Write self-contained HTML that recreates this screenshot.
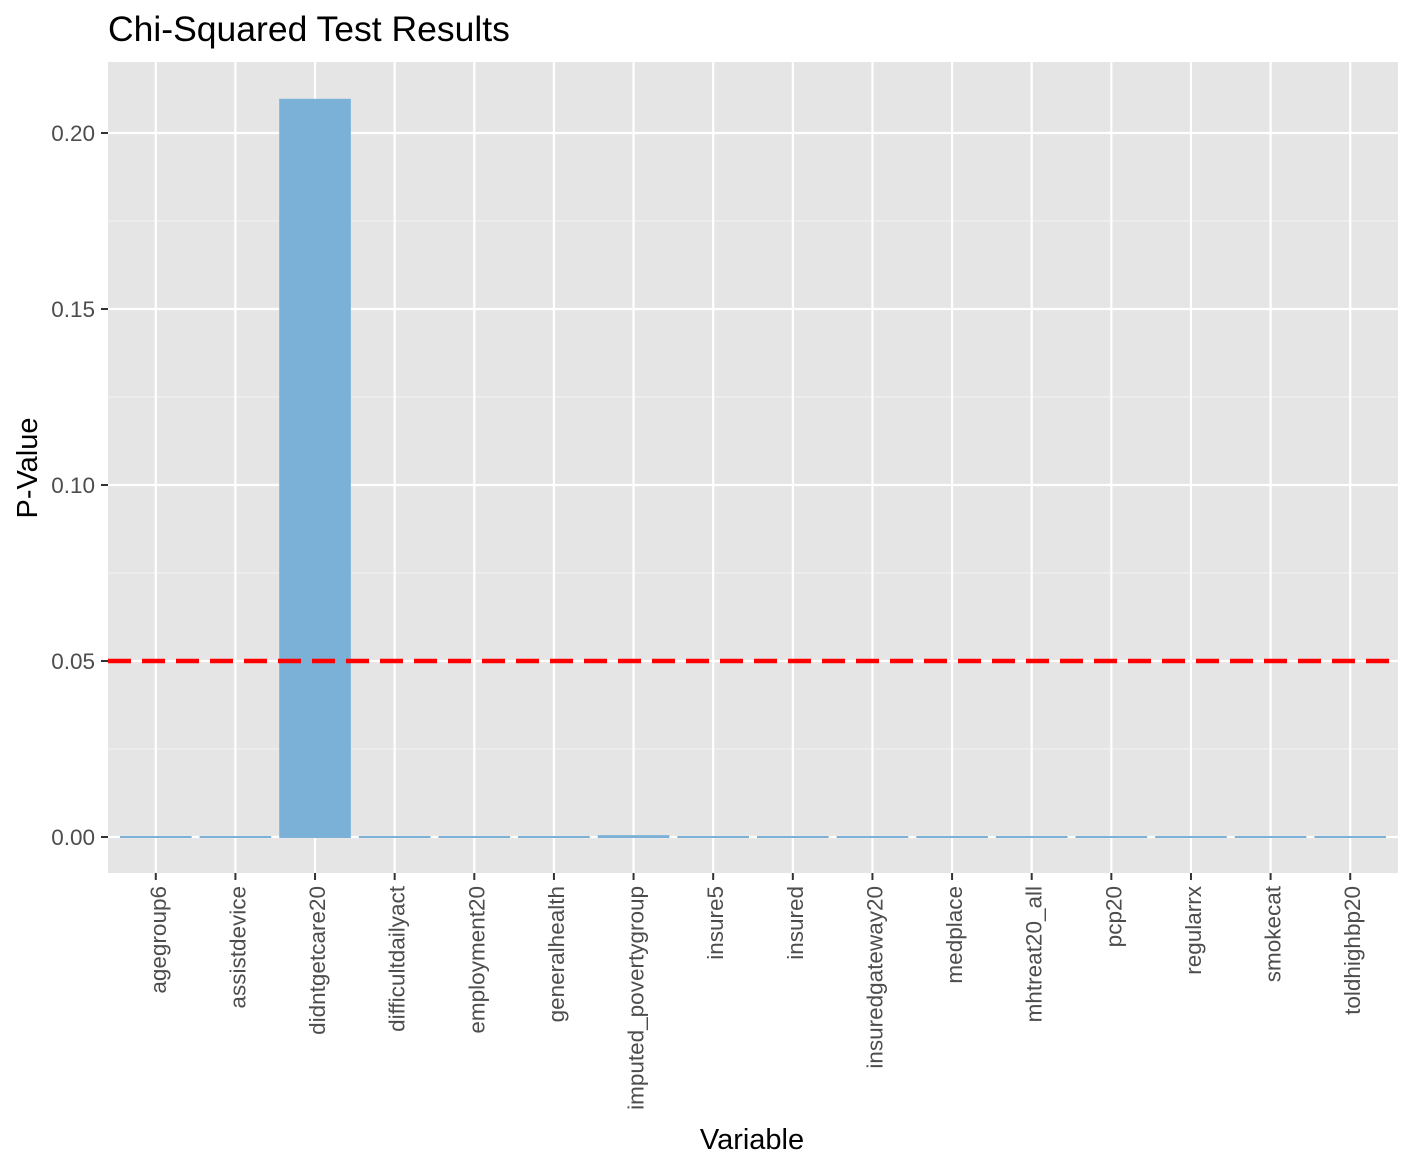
<!DOCTYPE html>
<html><head><meta charset="utf-8"><style>
body{margin:0;background:#fff}
svg{display:block;font-family:"Liberation Sans",Arial,sans-serif}
</style></head><body>
<svg id="chart" width="1412" height="1170">
<text x="108" y="41" font-size="35.5" fill="#000">Chi-Squared Test Results</text>
<rect x="108" y="62" width="1290" height="811" fill="#e5e5e5"/>
<g id="grid"></g><g id="bars"></g><g id="axes"></g>
<text x="752" y="1149" font-size="29" text-anchor="middle" fill="#000">Variable</text>
<text transform="translate(37,468) rotate(-90)" font-size="29" text-anchor="middle" fill="#000">P-Value</text>
</svg>
<script>
const categories=["agegroup6","assistdevice","didntgetcare20","difficultdailyact","employment20","generalhealth","imputed_povertygroup","insure5","insured","insuredgateway20","medplace","mhtreat20_all","pcp20","regularrx","smokecat","toldhighbp20"];
const pValues=[0,0,0.21,0,0,0,0.0008,0,0,0,0,0,0,0,0,0];
const yTicks=[0,0.05,0.10,0.15,0.20];
const yTickLabels=["0.00","0.05","0.10","0.15","0.20"];
const threshold=0.05;
const NS="http://www.w3.org/2000/svg";
const px0=108,px1=1398,py0=62,py1=873;
const step=(px1-px0)/(categories.length+0.2);
const xc=i=>px0+(i+0.6)*step;
const y=v=>837-v*3520;
function mk(tag,attrs,parent){const e=document.createElementNS(NS,tag);for(const k in attrs)e.setAttribute(k,attrs[k]);parent.appendChild(e);return e;}
const grid=document.getElementById('grid'),bars=document.getElementById('bars'),axes=document.getElementById('axes');
for(let i=0;i<yTicks.length-1;i++){const v=(yTicks[i]+yTicks[i+1])/2;
const l=mk('line',{x1:px0,x2:px1,y1:y(v),y2:y(v),stroke:'#f2f2f2','stroke-width':1},grid);

}
yTicks.forEach((v,i)=>{
const l=mk('line',{x1:px0,x2:px1,y1:y(v),y2:y(v),stroke:'#fff','stroke-width':2.2},grid);


const t=mk('line',{x1:101,x2:108,y1:y(v),y2:y(v),stroke:'#333','stroke-width':2},axes);


const tx=mk('text',{x:95,y:y(v)+8,'font-size':22.5,'text-anchor':'end',fill:'#4d4d4d'},axes);
tx.textContent=yTickLabels[i];

});
categories.forEach((c,i)=>{
const l=mk('line',{x1:xc(i),x2:xc(i),y1:py0,y2:py1,stroke:'#fff','stroke-width':2.2},grid);


const w=step*0.9,top=y(pValues[i]),h=Math.max(837-top,2);
const r=mk('rect',{x:xc(i)-w/2,y:837-h+1,width:w,height:h,fill:'#7bb1d7'},bars);


const t=mk('line',{x1:xc(i),x2:xc(i),y1:873,y2:880,stroke:'#333','stroke-width':2},axes);


const tx=mk('text',{transform:`translate(${xc(i)+10},886) rotate(-90)`,'font-size':22.5,'text-anchor':'end',fill:'#4d4d4d'},axes);
tx.textContent=c;

});
const th=mk('line',{x1:px0,x2:px1,y1:y(threshold),y2:y(threshold),stroke:'#ff0000','stroke-width':4.5,'stroke-dasharray':'23,11'},bars);


</script>
</body></html>
